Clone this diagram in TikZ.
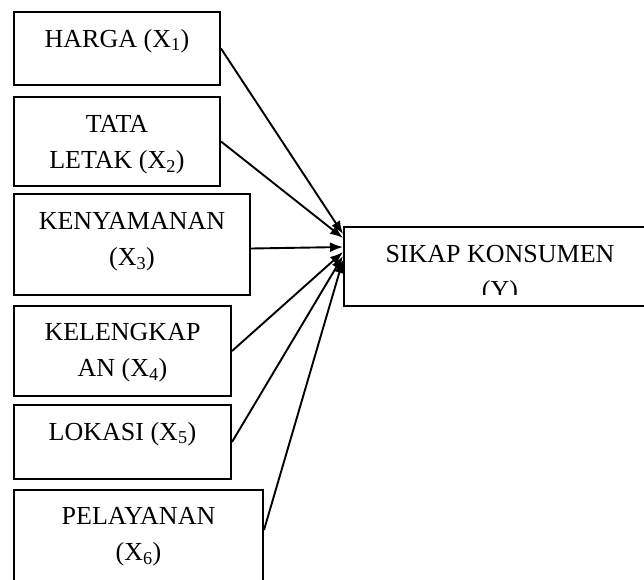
\documentclass[tikz,border=0pt]{standalone}
\usepackage{fontspec}
\setmainfont{Liberation Serif}
\usetikzlibrary{arrows.meta,calc}
\tikzset{
  box/.style={draw, line width=2pt, rectangle, inner sep=0pt, anchor=north west},
  lbl/.style={inner sep=0pt, anchor=north, align=center, font=\fontsize{26}{36}\selectfont},
  conn/.style={line width=1.9pt, -{Latex[length=13pt,width=10pt]}},
}
\begin{document}
\begin{tikzpicture}[x=1pt,y=-1pt]
\useasboundingbox (0,0) rectangle (644,579);
\node[box, minimum width=206pt, minimum height=73pt]  (b1) at (13,11) {};
\node[box, minimum width=206pt, minimum height=89pt]  (b2) at (13,96) {};
\node[box, minimum width=236pt, minimum height=101pt] (b3) at (13,193) {};
\node[box, minimum width=217pt, minimum height=90pt]  (b4) at (13,305) {};
\node[box, minimum width=217pt, minimum height=74pt]  (b5) at (13,404) {};
\node[box, minimum width=249pt, minimum height=120pt] (b6) at (13,489) {};
\node[box, minimum width=312pt, minimum height=79pt]  (y)  at (343,226) {};

\node[lbl] (t1) at ($(b1.north)+(0,18)$) {HARGA (X\textsubscript{1})};
\node[lbl] (t2) at ($(b2.north)+(0,19)$) {TATA\\LETAK (X\textsubscript{2})};
\node[lbl] (t3) at ($(b3.north)+(0,19)$) {KENYAMANAN\\(X\textsubscript{3})};
\node[lbl] (t4) at ($(b4.north)+(0,18)$) {KELENGKAP\\AN (X\textsubscript{4})};
\node[lbl] (t5) at ($(b5.north)+(0,18)$) {LOKASI (X\textsubscript{5})};
\node[lbl] (t6) at ($(b6.north)+(0,18)$) {PELAYANAN\\(X\textsubscript{6})};
\begin{scope}
  \clip (343,226) rectangle (644,294);
  \node[lbl] (ty) at ($(y.north)+(0,19)$) {SIKAP KONSUMEN\\(Y)};
\end{scope}

\draw[conn] (b1.east) -- ([yshift=-8pt]y.north west);
\draw[conn] (b2.east) -- ([yshift=-12pt]y.north west);
\draw[conn] ([yshift=-4pt]b3.east) -- ([yshift=-21pt]y.north west);
\draw[conn] (b4.east) -- ([yshift=-26pt]y.north west);
\draw[conn] (b5.east) -- ([yshift=-30pt]y.north west);
\draw[conn] ([yshift=-41pt]b6.north east) -- ([yshift=-34pt]y.north west);
\end{tikzpicture}
\end{document}
